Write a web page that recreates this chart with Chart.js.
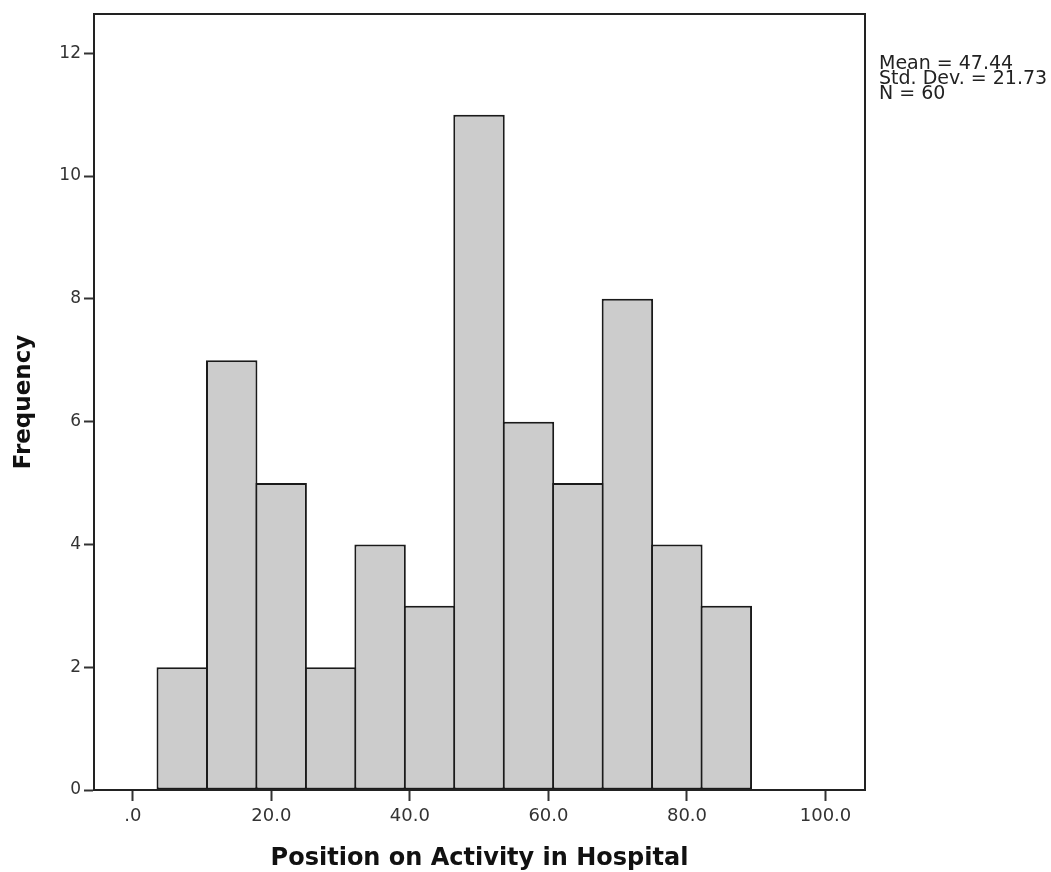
<!DOCTYPE html>
<html>
<head>
<meta charset="utf-8">
<script src="https://cdn.jsdelivr.net/npm/chart.js@4.4.1/dist/chart.umd.min.js"></script>
<style>
  html, body { margin: 0; padding: 0; background: #ffffff; }
  #wrap { width: 1051px; height: 872px; position: relative; }
</style>
</head>
<body>
<div id="wrap"><canvas id="c" width="1051" height="872"></canvas></div>
<script>
// Histogram bins (centre of each bin) and frequencies
const binCenters = [7.14, 14.28, 21.42, 28.56, 35.70, 42.84, 49.98, 57.12, 64.26, 71.40, 78.54, 85.68];
const frequencies = [2, 7, 5, 2, 4, 3, 11, 6, 5, 8, 4, 3];
const xTickValues = [0, 20, 40, 60, 80, 100];
const xTickLabels = ['.0', '20.0', '40.0', '60.0', '80.0', '100.0'];
const yTickValues = [0, 2, 4, 6, 8, 10, 12];
const statsLines = ['Mean = 47.44', 'Std. Dev. = 21.73', 'N = 60'];
const xTitle = 'Position on Activity in Hospital';
const yTitle = 'Frequency';

const dataPoints = binCenters.map((x, i) => ({ x: x, y: frequencies[i] }));

const frameAndStats = {
  id: 'frameAndStats',
  afterDraw(chart) {
    const ctx = chart.ctx;
    const a = chart.chartArea;
    ctx.save();
    ctx.strokeStyle = '#222';
    ctx.lineWidth = 2;
    ctx.strokeRect(a.left, a.top, a.right - a.left, a.bottom - a.top);
    ctx.fillStyle = '#222';
    ctx.font = '19px "DejaVu Sans"';
    ctx.textBaseline = 'alphabetic';
    statsLines.forEach((t, i) => ctx.fillText(t, a.right + 14, 69 + i * 15));
    ctx.restore();
  }
};

new Chart(document.getElementById('c'), {
  type: 'bar',
  data: {
    datasets: [{
      data: dataPoints,
      backgroundColor: '#cccccc',
      borderColor: '#1a1a1a',
      borderWidth: 2,
      borderSkipped: false,
      barPercentage: 1.04,
      categoryPercentage: 1.0
    }]
  },
  options: {
    responsive: false,
    animation: false,
    layout: { padding: { top: 14, right: 186, left: 0, bottom: 0 } },
    plugins: { legend: { display: false }, tooltip: { enabled: false } },
    scales: {
      x: {
        type: 'linear',
        offset: false,
        min: -5.6,
        max: 105.7,
        afterBuildTicks(scale) { scale.ticks = xTickValues.map(v => ({ value: v })); },
        afterFit(scale) { scale.height = 82; },
        ticks: {
          callback(v) { const i = xTickValues.indexOf(v); return i >= 0 ? xTickLabels[i] : ''; },
          color: '#333',
          font: { family: 'DejaVu Sans', size: 18 },
          padding: 5,
          maxRotation: 0,
          autoSkip: false
        },
        grid: { offset: false, drawOnChartArea: false, drawTicks: true, tickLength: 11, tickColor: '#333', tickWidth: 2 },
        border: { display: true, color: '#222', width: 2 },
        title: {
          display: true, text: xTitle, color: '#111',
          font: { family: 'DejaVu Sans', size: 24, weight: 'bold' },
          padding: { top: 4, bottom: -1 }
        }
      },
      y: {
        type: 'linear',
        min: 0,
        max: 12.64,
        afterBuildTicks(scale) { scale.ticks = yTickValues.map(v => ({ value: v })); },
        afterFit(scale) { scale.width = 94; },
        ticks: {
          color: '#333',
          font: { family: 'DejaVu Sans', size: 17 },
          padding: 3,
          autoSkip: false
        },
        grid: { drawOnChartArea: false, drawTicks: true, tickLength: 10, tickColor: '#333', tickWidth: 2 },
        border: { display: true, color: '#222', width: 2 },
        title: {
          display: true, text: yTitle, color: '#111',
          font: { family: 'DejaVu Sans', size: 23, weight: 'bold' },
          padding: { top: 10, bottom: 6 }
        }
      }
    }
  },
  plugins: [frameAndStats]
});
</script>
</body>
</html>
